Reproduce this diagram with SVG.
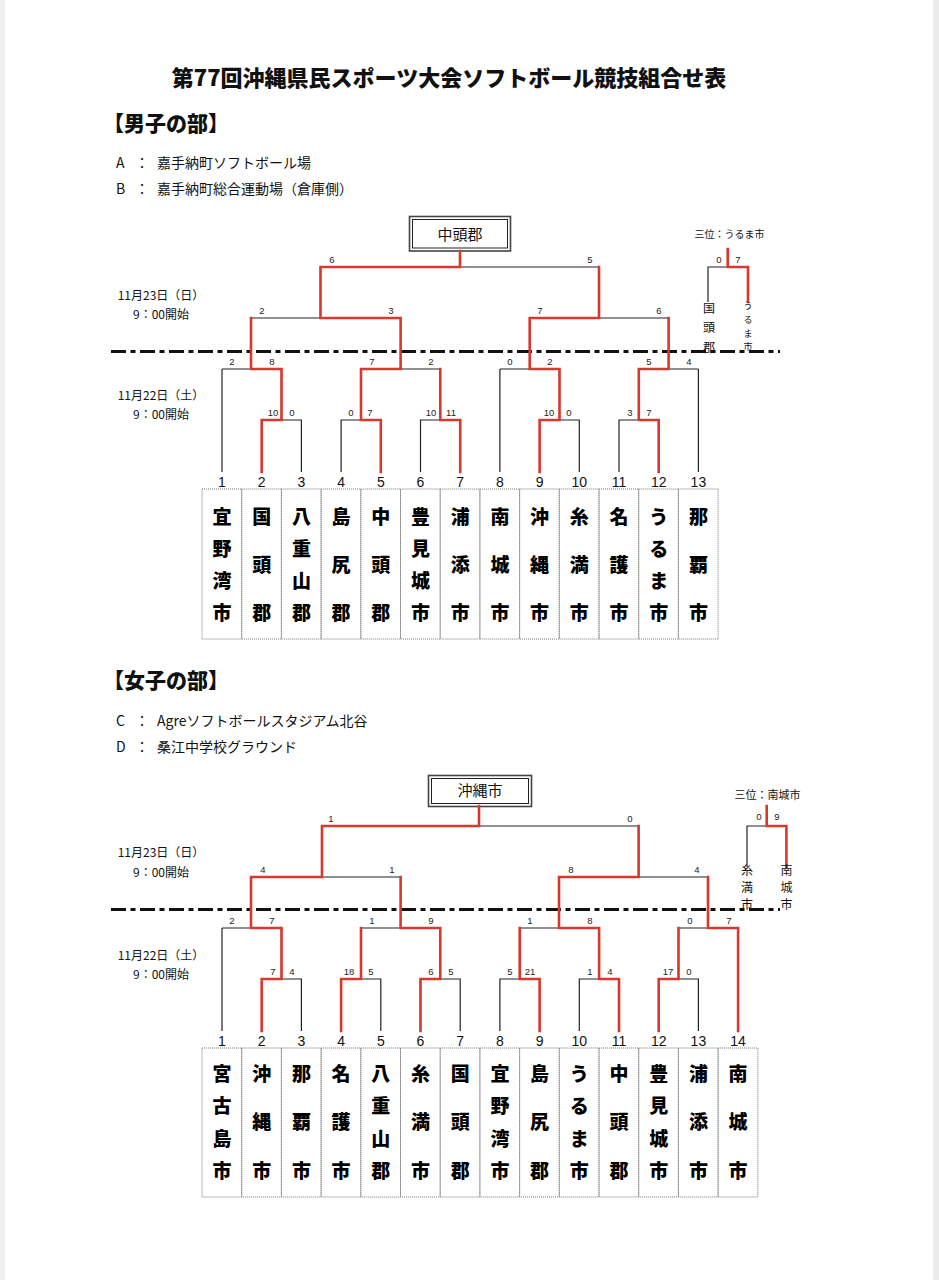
<svg xmlns="http://www.w3.org/2000/svg" width="939" height="1280" viewBox="0 0 939 1280">
<style>
.blk{fill:none;stroke:#222;stroke-width:1.2}
.red{fill:none;stroke:#d8392e;stroke-width:2.6;stroke-linecap:square}
.cell{fill:none;stroke:#777;stroke-width:1;stroke-dasharray:1 1}
.jp{font-family:"Noto Sans CJK JP","Noto Sans CJK SC",sans-serif;fill:#111}
.name{font-size:19px;font-weight:900;text-anchor:middle;fill:#000}
.num{font-family:"Liberation Sans",Arial,sans-serif;font-size:14px;text-anchor:middle;fill:#111}
.sc{font-family:"Liberation Sans",Arial,sans-serif;font-size:9.5px;text-anchor:middle;fill:#222}
.date{font-size:12px;text-anchor:middle}
.venue{font-size:14px}
.dash{fill:none;stroke:#111;stroke-width:3;stroke-dasharray:15 4.5 5 4.5}
.box-o{fill:#fff;stroke:#444;stroke-width:1.6}
.box-i{fill:none;stroke:#222;stroke-width:1}
</style>
<rect x="0" y="0" width="939" height="1280" fill="#fff"/>
<rect x="0" y="0" width="5" height="1280" fill="#f0f0f0"/>
<rect x="933" y="0" width="6" height="1280" fill="#ececec"/>

<g id="title"><text class="jp" x="449" y="86" font-size="22" font-weight="900" text-anchor="middle">第77回沖縄県民スポーツ大会ソフトボール競技組合せ表</text></g>

<g id="men-header">
<text class="jp" x="103" y="130.5" font-size="21" font-weight="900">【男子の部】</text>
<text class="jp venue" y="168.3"><tspan x="116">A</tspan><tspan x="135">：</tspan><tspan x="157">嘉手納町ソフトボール場</tspan></text>
<text class="jp venue" y="194.3"><tspan x="116">B</tspan><tspan x="135">：</tspan><tspan x="157">嘉手納町総合運動場（倉庫側）</tspan></text>
</g>
<g id="men-dates">
<text class="jp date" x="161" y="299.6">11月23日（日）</text>
<text class="jp date" x="161" y="318.6">9：00開始</text>
<text class="jp date" x="161" y="399.6">11月22日（土）</text>
<text class="jp date" x="161" y="418.6">9：00開始</text>
</g>
<line class="dash" x1="111" y1="351.5" x2="780" y2="351.5"/>

<g id="men-champion">
<rect class="box-o" x="409.5" y="216.5" width="101" height="34.5"/>
<rect class="box-i" x="412.5" y="219.5" width="95" height="28.5"/>
<text class="jp" x="460" y="239.5" font-size="15" text-anchor="middle">中頭郡</text>
</g>

<g id="men-connectors">
<path class="blk" d="M222 472V369M261.7 472V420H301.4V472M341.1 472V420H380.8V472M420.5 472V420H460.2V472M499.9 472V369M539.6 472V420H579.3V472M619 472V420H658.7V472M698.4 472V369M281.5 420V369M361 420V369M440.3 420V369M559.5 420V369M638.8 420V369M222 369H281.5M361 369H440.3M499.9 369H559.5M638.8 369H698.4M251 369V318M400.6 369V318M529.7 369V318M668.6 369V318M251 318H400.6M529.7 318H668.6M320.5 318V267M599 318V267M320.5 267H599M460 267V251"/>
<path class="red" d="M380.8 472V420H361V369H400.6V318H320.5V267H460V251"/>
<path class="red" d="M539.6 472V420H559.5V369H529.7V318H599V267"/>
<path class="red" d="M261.7 472V420H281.5V369H251V318"/>
<path class="red" d="M460.2 472V420H440.3V369"/>
<path class="red" d="M658.7 472V420H638.8V369H668.6V318"/>
<path class="blk" d="M708 302V267H727.7"/>
<path class="red" d="M727.7 249V267H748V302"/>
</g>

<g id="men-scores">
<text class="sc" x="332" y="263">6</text><text class="sc" x="590" y="263">5</text>
<text class="sc" x="262" y="314">2</text><text class="sc" x="391" y="314">3</text>
<text class="sc" x="540" y="314">7</text><text class="sc" x="659" y="314">6</text>
<text class="sc" x="232" y="365">2</text><text class="sc" x="272" y="365">8</text>
<text class="sc" x="372" y="365">7</text><text class="sc" x="431" y="365">2</text>
<text class="sc" x="510" y="365">0</text><text class="sc" x="550" y="365">2</text>
<text class="sc" x="649" y="365">5</text><text class="sc" x="689" y="365">4</text>
<text class="sc" x="273" y="416">10</text><text class="sc" x="292" y="416">0</text>
<text class="sc" x="351" y="416">0</text><text class="sc" x="370" y="416">7</text>
<text class="sc" x="431" y="416">10</text><text class="sc" x="451" y="416">11</text>
<text class="sc" x="549" y="416">10</text><text class="sc" x="569" y="416">0</text>
<text class="sc" x="630" y="416">3</text><text class="sc" x="649" y="416">7</text>
</g>

<g id="men-third">
<text class="jp" x="729.5" y="237.8" font-size="10" text-anchor="middle">三位：うるま市</text>
<text class="sc" x="719" y="263">0</text><text class="sc" x="738" y="263">7</text>
<text class="jp" font-size="12" text-anchor="middle"><tspan x="709" y="312.6">国</tspan><tspan x="709" y="332">頭</tspan><tspan x="709" y="351.6">郡</tspan></text>
<text class="jp" font-size="9" text-anchor="middle"><tspan x="748" y="309.4">う</tspan><tspan x="748" y="323.4">る</tspan><tspan x="748" y="337.4">ま</tspan><tspan x="748" y="350.4">市</tspan></text>
</g>

<g id="men-team-1"><text class="num" x="222" y="487">1</text><rect class="cell" x="202" y="489" width="39.7" height="150"/><text class="jp name"><tspan x="222" y="523.5">宜</tspan><tspan x="222" y="555.7">野</tspan><tspan x="222" y="587.8">湾</tspan><tspan x="222" y="620">市</tspan></text></g>
<g id="men-team-2"><text class="num" x="261.7" y="487">2</text><rect class="cell" x="241.7" y="489" width="39.7" height="150"/><text class="jp name"><tspan x="261.7" y="523.5">国</tspan><tspan x="261.7" y="571.75">頭</tspan><tspan x="261.7" y="620">郡</tspan></text></g>
<g id="men-team-3"><text class="num" x="301.4" y="487">3</text><rect class="cell" x="281.4" y="489" width="39.7" height="150"/><text class="jp name"><tspan x="301.4" y="523.5">八</tspan><tspan x="301.4" y="555.7">重</tspan><tspan x="301.4" y="587.8">山</tspan><tspan x="301.4" y="620">郡</tspan></text></g>
<g id="men-team-4"><text class="num" x="341.1" y="487">4</text><rect class="cell" x="321.1" y="489" width="39.7" height="150"/><text class="jp name"><tspan x="341.1" y="523.5">島</tspan><tspan x="341.1" y="571.75">尻</tspan><tspan x="341.1" y="620">郡</tspan></text></g>
<g id="men-team-5"><text class="num" x="380.8" y="487">5</text><rect class="cell" x="360.8" y="489" width="39.7" height="150"/><text class="jp name"><tspan x="380.8" y="523.5">中</tspan><tspan x="380.8" y="571.75">頭</tspan><tspan x="380.8" y="620">郡</tspan></text></g>
<g id="men-team-6"><text class="num" x="420.5" y="487">6</text><rect class="cell" x="400.5" y="489" width="39.7" height="150"/><text class="jp name"><tspan x="420.5" y="523.5">豊</tspan><tspan x="420.5" y="555.7">見</tspan><tspan x="420.5" y="587.8">城</tspan><tspan x="420.5" y="620">市</tspan></text></g>
<g id="men-team-7"><text class="num" x="460.2" y="487">7</text><rect class="cell" x="440.2" y="489" width="39.7" height="150"/><text class="jp name"><tspan x="460.2" y="523.5">浦</tspan><tspan x="460.2" y="571.75">添</tspan><tspan x="460.2" y="620">市</tspan></text></g>
<g id="men-team-8"><text class="num" x="499.9" y="487">8</text><rect class="cell" x="479.9" y="489" width="39.7" height="150"/><text class="jp name"><tspan x="499.9" y="523.5">南</tspan><tspan x="499.9" y="571.75">城</tspan><tspan x="499.9" y="620">市</tspan></text></g>
<g id="men-team-9"><text class="num" x="539.6" y="487">9</text><rect class="cell" x="519.6" y="489" width="39.7" height="150"/><text class="jp name"><tspan x="539.6" y="523.5">沖</tspan><tspan x="539.6" y="571.75">縄</tspan><tspan x="539.6" y="620">市</tspan></text></g>
<g id="men-team-10"><text class="num" x="579.3" y="487">10</text><rect class="cell" x="559.3" y="489" width="39.7" height="150"/><text class="jp name"><tspan x="579.3" y="523.5">糸</tspan><tspan x="579.3" y="571.75">満</tspan><tspan x="579.3" y="620">市</tspan></text></g>
<g id="men-team-11"><text class="num" x="619" y="487">11</text><rect class="cell" x="599" y="489" width="39.7" height="150"/><text class="jp name"><tspan x="619" y="523.5">名</tspan><tspan x="619" y="571.75">護</tspan><tspan x="619" y="620">市</tspan></text></g>
<g id="men-team-12"><text class="num" x="658.7" y="487">12</text><rect class="cell" x="638.7" y="489" width="39.7" height="150"/><text class="jp name"><tspan x="658.7" y="523.5">う</tspan><tspan x="658.7" y="555.7">る</tspan><tspan x="658.7" y="587.8">ま</tspan><tspan x="658.7" y="620">市</tspan></text></g>
<g id="men-team-13"><text class="num" x="698.4" y="487">13</text><rect class="cell" x="678.4" y="489" width="39.7" height="150"/><text class="jp name"><tspan x="698.4" y="523.5">那</tspan><tspan x="698.4" y="571.75">覇</tspan><tspan x="698.4" y="620">市</tspan></text></g>

<g id="women-header">
<text class="jp" x="103" y="688" font-size="21" font-weight="900">【女子の部】</text>
<text class="jp venue" y="726.3"><tspan x="116">C</tspan><tspan x="135">：</tspan><tspan x="157">Agreソフトボールスタジアム北谷</tspan></text>
<text class="jp venue" y="751.8"><tspan x="116">D</tspan><tspan x="135">：</tspan><tspan x="157">桑江中学校グラウンド</tspan></text>
</g>
<g id="women-dates">
<text class="jp date" x="161" y="856.6">11月23日（日）</text>
<text class="jp date" x="161" y="876.6">9：00開始</text>
<text class="jp date" x="161" y="959.6">11月22日（土）</text>
<text class="jp date" x="161" y="978.6">9：00開始</text>
</g>
<line class="dash" x1="111" y1="909.5" x2="780" y2="909.5"/>

<g id="women-champion">
<rect class="box-o" x="428.5" y="775.5" width="103" height="31"/>
<rect class="box-i" x="431.5" y="778.5" width="97" height="25"/>
<text class="jp" x="480" y="796" font-size="15" text-anchor="middle">沖縄市</text>
</g>

<g id="women-connectors">
<path class="blk" d="M222 1031V928M261.7 1031V979H301.4V1031M341.1 1031V979H380.8V1031M420.5 1031V979H460.2V1031M499.9 1031V979H539.6V1031M579.3 1031V979H619V1031M658.7 1031V979H698.4V1031M738.1 1031V928M281.5 979V928M361 979V928M440.3 979V928M519.7 979V928M599.1 979V928M678.5 979V928M222 928H281.5M361 928H440.3M519.7 928H599.1M678.5 928H738.1M251 928V877M400.6 928V877M559 928V877M708 928V877M251 877H400.6M559 877H708M322 877V826M638.6 877V826M322 826H638.6M479 826V806"/>
<path class="red" d="M261.7 1031V979H281.5V928H251V877H322V826H479V806"/>
<path class="red" d="M619 1031V979H599.1V928H559V877H638.6V826"/>
<path class="red" d="M341.1 1031V979H361V928"/>
<path class="red" d="M420.5 1031V979H440.3V928H400.6V877"/>
<path class="red" d="M539.6 1031V979H519.7V928"/>
<path class="red" d="M658.7 1031V979H678.5V928"/>
<path class="red" d="M738.1 1031V928H708V877"/>
<path class="blk" d="M747 867V826H766.7"/>
<path class="red" d="M766.7 806V826H786.4V867"/>
</g>

<g id="women-scores">
<text class="sc" x="331" y="822">1</text><text class="sc" x="630" y="822">0</text>
<text class="sc" x="263" y="873">4</text><text class="sc" x="392" y="873">1</text>
<text class="sc" x="571" y="873">8</text><text class="sc" x="697" y="873">4</text>
<text class="sc" x="232" y="924">2</text><text class="sc" x="272" y="924">7</text>
<text class="sc" x="372" y="924">1</text><text class="sc" x="431" y="924">9</text>
<text class="sc" x="530" y="924">1</text><text class="sc" x="590" y="924">8</text>
<text class="sc" x="690" y="924">0</text><text class="sc" x="729" y="924">7</text>
<text class="sc" x="273" y="975">7</text><text class="sc" x="292" y="975">4</text>
<text class="sc" x="349" y="975">18</text><text class="sc" x="371" y="975">5</text>
<text class="sc" x="431" y="975">6</text><text class="sc" x="451" y="975">5</text>
<text class="sc" x="510" y="975">5</text><text class="sc" x="530" y="975">21</text>
<text class="sc" x="590" y="975">1</text><text class="sc" x="610" y="975">4</text>
<text class="sc" x="668" y="975">17</text><text class="sc" x="689" y="975">0</text>
</g>

<g id="women-third">
<text class="jp" x="767.5" y="799" font-size="11" text-anchor="middle">三位：南城市</text>
<text class="sc" x="759" y="820">0</text><text class="sc" x="777" y="820">9</text>
<text class="jp" font-size="12" text-anchor="middle"><tspan x="747" y="874.6">糸</tspan><tspan x="747" y="891.6">満</tspan><tspan x="747" y="908.6">市</tspan></text>
<text class="jp" font-size="12" text-anchor="middle"><tspan x="786.4" y="874.6">南</tspan><tspan x="786.4" y="891.6">城</tspan><tspan x="786.4" y="908.6">市</tspan></text>
</g>

<g id="women-team-1"><text class="num" x="222" y="1046">1</text><rect class="cell" x="202" y="1048" width="39.7" height="149"/><text class="jp name"><tspan x="222" y="1080.5">宮</tspan><tspan x="222" y="1113">古</tspan><tspan x="222" y="1145.5">島</tspan><tspan x="222" y="1178">市</tspan></text></g>
<g id="women-team-2"><text class="num" x="261.7" y="1046">2</text><rect class="cell" x="241.7" y="1048" width="39.7" height="149"/><text class="jp name"><tspan x="261.7" y="1080.5">沖</tspan><tspan x="261.7" y="1129.25">縄</tspan><tspan x="261.7" y="1178">市</tspan></text></g>
<g id="women-team-3"><text class="num" x="301.4" y="1046">3</text><rect class="cell" x="281.4" y="1048" width="39.7" height="149"/><text class="jp name"><tspan x="301.4" y="1080.5">那</tspan><tspan x="301.4" y="1129.25">覇</tspan><tspan x="301.4" y="1178">市</tspan></text></g>
<g id="women-team-4"><text class="num" x="341.1" y="1046">4</text><rect class="cell" x="321.1" y="1048" width="39.7" height="149"/><text class="jp name"><tspan x="341.1" y="1080.5">名</tspan><tspan x="341.1" y="1129.25">護</tspan><tspan x="341.1" y="1178">市</tspan></text></g>
<g id="women-team-5"><text class="num" x="380.8" y="1046">5</text><rect class="cell" x="360.8" y="1048" width="39.7" height="149"/><text class="jp name"><tspan x="380.8" y="1080.5">八</tspan><tspan x="380.8" y="1113">重</tspan><tspan x="380.8" y="1145.5">山</tspan><tspan x="380.8" y="1178">郡</tspan></text></g>
<g id="women-team-6"><text class="num" x="420.5" y="1046">6</text><rect class="cell" x="400.5" y="1048" width="39.7" height="149"/><text class="jp name"><tspan x="420.5" y="1080.5">糸</tspan><tspan x="420.5" y="1129.25">満</tspan><tspan x="420.5" y="1178">市</tspan></text></g>
<g id="women-team-7"><text class="num" x="460.2" y="1046">7</text><rect class="cell" x="440.2" y="1048" width="39.7" height="149"/><text class="jp name"><tspan x="460.2" y="1080.5">国</tspan><tspan x="460.2" y="1129.25">頭</tspan><tspan x="460.2" y="1178">郡</tspan></text></g>
<g id="women-team-8"><text class="num" x="499.9" y="1046">8</text><rect class="cell" x="479.9" y="1048" width="39.7" height="149"/><text class="jp name"><tspan x="499.9" y="1080.5">宜</tspan><tspan x="499.9" y="1113">野</tspan><tspan x="499.9" y="1145.5">湾</tspan><tspan x="499.9" y="1178">市</tspan></text></g>
<g id="women-team-9"><text class="num" x="539.6" y="1046">9</text><rect class="cell" x="519.6" y="1048" width="39.7" height="149"/><text class="jp name"><tspan x="539.6" y="1080.5">島</tspan><tspan x="539.6" y="1129.25">尻</tspan><tspan x="539.6" y="1178">郡</tspan></text></g>
<g id="women-team-10"><text class="num" x="579.3" y="1046">10</text><rect class="cell" x="559.3" y="1048" width="39.7" height="149"/><text class="jp name"><tspan x="579.3" y="1080.5">う</tspan><tspan x="579.3" y="1113">る</tspan><tspan x="579.3" y="1145.5">ま</tspan><tspan x="579.3" y="1178">市</tspan></text></g>
<g id="women-team-11"><text class="num" x="619" y="1046">11</text><rect class="cell" x="599" y="1048" width="39.7" height="149"/><text class="jp name"><tspan x="619" y="1080.5">中</tspan><tspan x="619" y="1129.25">頭</tspan><tspan x="619" y="1178">郡</tspan></text></g>
<g id="women-team-12"><text class="num" x="658.7" y="1046">12</text><rect class="cell" x="638.7" y="1048" width="39.7" height="149"/><text class="jp name"><tspan x="658.7" y="1080.5">豊</tspan><tspan x="658.7" y="1113">見</tspan><tspan x="658.7" y="1145.5">城</tspan><tspan x="658.7" y="1178">市</tspan></text></g>
<g id="women-team-13"><text class="num" x="698.4" y="1046">13</text><rect class="cell" x="678.4" y="1048" width="39.7" height="149"/><text class="jp name"><tspan x="698.4" y="1080.5">浦</tspan><tspan x="698.4" y="1129.25">添</tspan><tspan x="698.4" y="1178">市</tspan></text></g>
<g id="women-team-14"><text class="num" x="738.1" y="1046">14</text><rect class="cell" x="718.1" y="1048" width="39.7" height="149"/><text class="jp name"><tspan x="738.1" y="1080.5">南</tspan><tspan x="738.1" y="1129.25">城</tspan><tspan x="738.1" y="1178">市</tspan></text></g>
</svg>
